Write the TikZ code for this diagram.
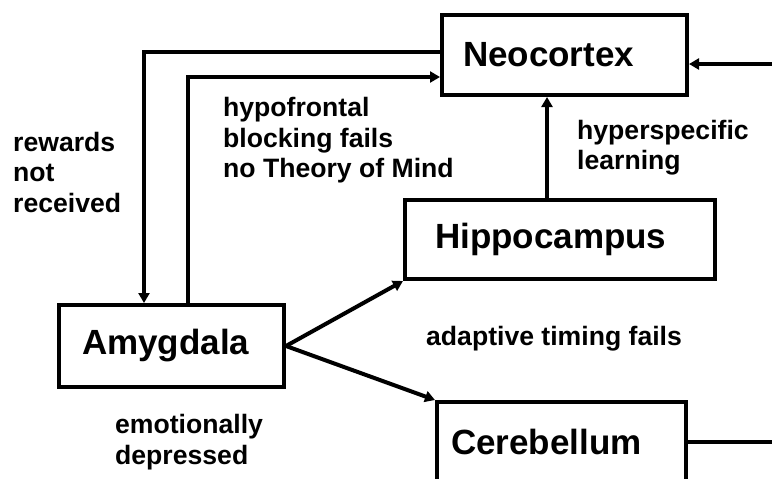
\documentclass[tikz,border=0pt]{standalone}
\usepackage{fontspec}
\setmainfont{Liberation Sans}
\usepackage{tikz}
\usetikzlibrary{arrows.meta}

\tikzset{
  box/.style={draw, line width=4pt, inner ysep=0pt, align=left,
    font=\fontsize{35}{40}\selectfont\bfseries},
  note/.style={anchor=west, align=left, inner sep=0pt,
    font=\fontsize{26.6}{30.5}\selectfont\bfseries},
  link/.style={line width=4pt}
}

\begin{document}
\begin{tikzpicture}[x=1pt,y=-1pt,>={Triangle[length=10pt,width=11pt]}]
\clip (0,0) rectangle (772,479);
\node[box, inner xsep=21pt, text width=203pt, minimum height=80pt] (neo) at (564.5,55) {Neocortex};
\node[box, inner xsep=30pt, text width=250pt, minimum height=79pt] (hippo) at (560,239.5) {Hippocampus};
\node[box, inner xsep=23pt, text width=179pt, minimum height=82pt] (amyg) at (171.5,346) {Amygdala};
\node[box, inner xsep=14pt, text width=221pt, minimum height=80pt] (cereb) at (561.5,442) {Cerebellum};
\node[note] (rewards) at (13,172) {rewards\\not\\received};
\node[note] (hypofrontal) at (223,140.5) {hypofrontal\\blocking fails\\no Theory of Mind};
\node[note] (hyperspec) at (577,147.5) {hyperspecific\\learning};
\node[note] (timing) at (426,339) {adaptive timing fails};
\node[note] (depressed) at (115,442) {emotionally\\depressed};
\coordinate (neoin) at (772,64);
\coordinate (cerebout) at (772,442);
\draw[link,->] (neoin) -- (neoin -| neo.east);
\draw[link,->] ([yshift=3pt]neo.west) -| ([xshift=-27.5pt]amyg.north);
\draw[link,->] ([xshift=16.5pt]amyg.north) |- ([yshift=-22pt]neo.west);
\draw[link,->] ([xshift=-13pt]hippo.north) -- ([xshift=-13pt]hippo.north |- neo.south);
\draw[link,->] (amyg.east) -- (hippo.south west);
\draw[link,->] (amyg.east) -- (cereb.north west);
\draw[link] (cereb.east) -- (cerebout);
\end{tikzpicture}
\end{document}
